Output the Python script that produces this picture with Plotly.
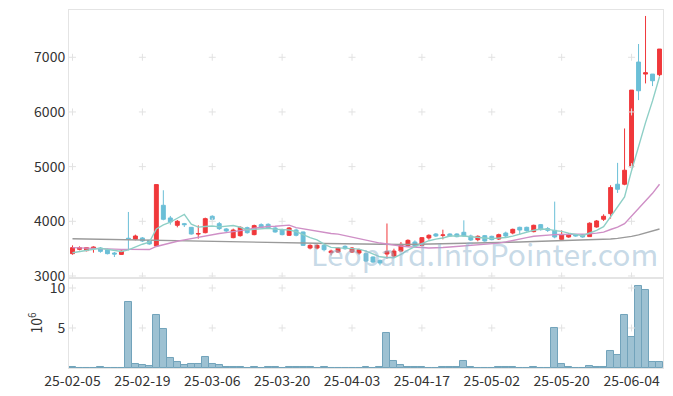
import plotly.graph_objects as go

# ---------------- data ----------------
dates = ["25-" + d for d in [
    "02-05", "02-06", "02-07", "02-10", "02-11", "02-12", "02-13", "02-14", "02-17", "02-18",
    "02-19", "02-20", "02-21", "02-24", "02-25", "02-26", "02-27", "02-28", "03-04", "03-05",
    "03-06", "03-07", "03-10", "03-11", "03-12", "03-13", "03-14", "03-17", "03-18", "03-19",
    "03-20", "03-21", "03-24", "03-25", "03-26", "03-27", "03-28", "03-31", "04-01", "04-02",
    "04-03", "04-04", "04-07", "04-08", "04-09", "04-10", "04-11", "04-14", "04-15", "04-16",
    "04-17", "04-18", "04-21", "04-22", "04-23", "04-24", "04-25", "04-28", "04-29", "04-30",
    "05-02", "05-07", "05-08", "05-09", "05-12", "05-13", "05-14", "05-15", "05-16", "05-19",
    "05-20", "05-21", "05-22", "05-23", "05-26", "05-27", "05-28", "05-29", "05-30", "06-02",
    "06-04", "06-05", "06-09", "06-10", "06-11"]]

opens = [3408, 3487, 3463, 3499, 3511, 3481, 3420, 3395, 3690, 3670,
         3695, 3652, 3548, 4293, 4061, 3927, 3957, 3890, 3768, 3792,
         4092, 3957, 3860, 3701, 3737, 3884, 3756, 3939, 3945, 3878,
         3847, 3744, 3841, 3805, 3511, 3511, 3560, 3426, 3438, 3542,
         3438, 3420, 3408, 3347, 3285, 3402, 3365, 3456, 3554, 3621,
         3560, 3695, 3768, 3744, 3768, 3768, 3799, 3731, 3664, 3737,
         3725, 3676, 3786, 3786, 3890, 3890, 3811, 3939, 3866, 3835,
         3670, 3713, 3756, 3756, 3720, 3896, 4037, 4140, 4678, 4678,
         4995, 6913, 6693, 6693, 6681]
highs = [3560, 3542, 3525, 3542, 3530, 3499, 3438, 3469, 4171, 3756,
         3713, 3660, 4672, 4568, 4098, 4024, 3970, 3896, 3927, 4067,
         4110, 3988, 3878, 3866, 3908, 3902, 3939, 3963, 3963, 3915,
         3866, 3896, 3866, 3811, 3579, 3579, 3573, 3481, 3530, 3560,
         3530, 3499, 3426, 3359, 3300, 3960, 3499, 3621, 3670, 3652,
         3713, 3762, 3786, 3847, 3780, 3780, 4018, 3756, 3744, 3750,
         3737, 3774, 3811, 3866, 3902, 3902, 3939, 3951, 3896, 4360,
         3835, 3786, 3768, 3768, 3982, 4024, 4128, 4660, 5069, 5698,
         6400, 7243, 7756, 6693, 7151]
lows = [3389, 3469, 3450, 3426, 3426, 3395, 3347, 3389, 3469, 3652,
        3621, 3573, 3548, 4018, 3939, 3890, 3896, 3756, 3682, 3780,
        4018, 3841, 3798, 3689, 3719, 3774, 3744, 3866, 3866, 3792,
        3743, 3731, 3725, 3548, 3487, 3487, 3450, 3377, 3420, 3481,
        3420, 3389, 3255, 3237, 3194, 3316, 3328, 3438, 3530, 3530,
        3542, 3664, 3713, 3670, 3719, 3707, 3719, 3640, 3634, 3627,
        3652, 3658, 3713, 3762, 3750, 3811, 3798, 3829, 3805, 3689,
        3640, 3700, 3719, 3700, 3713, 3884, 4006, 4049, 4519, 4660,
        4980, 6217, 6522, 6473, 6650]
closes = [3518, 3518, 3518, 3530, 3450, 3408, 3402, 3456, 3676, 3731,
          3640, 3585, 4672, 4037, 3988, 4000, 3939, 3768, 3774, 4049,
          4037, 3866, 3823, 3841, 3890, 3792, 3921, 3890, 3878, 3805,
          3756, 3878, 3744, 3560, 3560, 3560, 3481, 3456, 3511, 3499,
          3511, 3481, 3273, 3255, 3237, 3450, 3456, 3579, 3652, 3548,
          3701, 3744, 3731, 3750, 3731, 3719, 3731, 3658, 3725, 3640,
          3664, 3756, 3731, 3853, 3841, 3829, 3927, 3847, 3835, 3713,
          3760, 3762, 3731, 3713, 3965, 4006, 4092, 4617, 4586, 4934,
          6400, 6388, 6717, 6571, 7151]

# volume, millions of shares
volume_m = [0.15, 0.02, 0.02, 0.02, 0.10, 0.02, 0.02, 0.02, 8.20, 0.50,
            0.37, 0.25, 6.60, 4.90, 1.25, 0.75, 0.37, 0.50, 0.50, 1.40,
            0.50, 0.37, 0.15, 0.15, 0.15, 0.03, 0.12, 0.03, 0.12, 0.12,
            0.03, 0.12, 0.12, 0.12, 0.12, 0.03, 0.12, 0.02, 0.02, 0.02,
            0.02, 0.02, 0.10, 0.02, 0.10, 4.40, 0.93, 0.40, 0.13, 0.13,
            0.13, 0.03, 0.03, 0.10, 0.10, 0.10, 0.93, 0.13, 0.03, 0.03,
            0.03, 0.10, 0.10, 0.10, 0.03, 0.03, 0.10, 0.03, 0.03, 5.06,
            0.50, 0.13, 0.03, 0.03, 0.25, 0.13, 0.13, 2.07, 1.65, 6.58,
            3.90, 10.25, 9.75, 0.80, 0.80]

# moving-average lines as drawn in the reference
ma5 = [3426, 3450, 3470, 3490, 3507, 3485, 3462, 3449, 3478, 3535,
       3581, 3618, 3861, 3933, 3984, 4056, 4127, 3946, 3894, 3906,
       3913, 3899, 3910, 3923, 3891, 3842, 3853, 3867, 3874, 3857,
       3850, 3841, 3812, 3749, 3700, 3660, 3581, 3523, 3514, 3501,
       3492, 3492, 3455, 3404, 3351, 3339, 3334, 3395, 3475, 3537,
       3587, 3645, 3675, 3695, 3731, 3735, 3732, 3718, 3713, 3695,
       3684, 3689, 3703, 3729, 3769, 3802, 3836, 3859, 3856, 3830,
       3816, 3783, 3760, 3736, 3786, 3835, 3901, 4079, 4253, 4447,
       4926, 5385, 5805, 6202, 6645]
ma20 = [3518, 3512, 3506, 3500, 3496, 3492, 3488, 3486, 3486, 3486,
        3484, 3484, 3540, 3575, 3605, 3635, 3660, 3685, 3710, 3733,
        3759, 3776, 3792, 3807, 3829, 3848, 3874, 3896, 3906, 3910,
        3916, 3930, 3884, 3860, 3839, 3817, 3794, 3778, 3765, 3737,
        3711, 3692, 3664, 3635, 3602, 3585, 3562, 3547, 3535, 3522,
        3520, 3513, 3512, 3522, 3530, 3538, 3551, 3561, 3572, 3579,
        3586, 3600, 3623, 3653, 3683, 3702, 3726, 3739, 3748, 3756,
        3759, 3760, 3760, 3758, 3770, 3784, 3802, 3850, 3893, 3958,
        4095, 4227, 4376, 4512, 4677]
ma60 = [3682, 3680, 3678, 3676, 3674, 3671, 3668, 3665, 3662, 3659,
        3656, 3652, 3650, 3648, 3645, 3642, 3640, 3637, 3634, 3632,
        3630, 3628, 3626, 3624, 3622, 3620, 3618, 3616, 3614, 3612,
        3610, 3608, 3606, 3604, 3601, 3598, 3595, 3592, 3589, 3586,
        3583, 3580, 3578, 3576, 3575, 3574, 3574, 3575, 3576, 3578,
        3580, 3582, 3584, 3586, 3588, 3590, 3593, 3596, 3599, 3602,
        3605, 3609, 3613, 3617, 3621, 3625, 3629, 3633, 3637, 3640,
        3643, 3646, 3649, 3652, 3656, 3661, 3667, 3676, 3688, 3703,
        3724, 3752, 3785, 3822, 3860]

price_ticks = [3000, 4000, 5000, 6000, 7000]
vol_ticks = [5, 10]
tick_dates = dates[::10]
watermark = "Leopard.InfoPointer.com"

# ---------------- styling ----------------
FONT = "Noto Sans CJK KR"
UP = "#f0383b"
DOWN = "#6bbfd7"
FRAME = "#e4e4e4"
CROSS = "#e2e2e2"

fig = go.Figure()

# grid "+" marks at tick intersections
fig.add_trace(go.Scatter(
    x=[d for d in tick_dates for _ in price_ticks],
    y=[p for _ in tick_dates for p in price_ticks],
    mode="markers", xaxis="x", yaxis="y", hoverinfo="skip", showlegend=False,
    marker=dict(symbol="cross-thin", size=5, line=dict(color=CROSS, width=1))))
fig.add_trace(go.Scatter(
    x=[d for d in tick_dates for _ in vol_ticks],
    y=[v for _ in tick_dates for v in vol_ticks],
    mode="markers", xaxis="x2", yaxis="y2", hoverinfo="skip", showlegend=False,
    marker=dict(symbol="cross-thin", size=5, line=dict(color=CROSS, width=1))))

# moving averages
for vals, col in [(ma60, "#9a9a9a"), (ma20, "#cf8fc6"), (ma5, "#8ecfc6")]:
    fig.add_trace(go.Scatter(x=dates, y=vals, mode="lines", xaxis="x", yaxis="y",
                             line=dict(color=col, width=1.4), hoverinfo="skip",
                             showlegend=False))

# candles
fig.add_trace(go.Candlestick(
    x=dates, open=opens, high=highs, low=lows, close=closes,
    xaxis="x", yaxis="y", showlegend=False, whiskerwidth=0,
    increasing=dict(line=dict(color=UP, width=1), fillcolor=UP),
    decreasing=dict(line=dict(color=DOWN, width=1), fillcolor=DOWN)))

# volume
fig.add_trace(go.Bar(
    x=dates, y=volume_m, xaxis="x2", yaxis="y2", showlegend=False,
    marker=dict(color="#9dc1d2", line=dict(color="#72a3bb", width=1))))

axis_common = dict(showline=True, mirror=True, linecolor=FRAME, linewidth=1,
                   showgrid=False, zeroline=False, ticks="", automargin=False)

# page body keeps an 8px default margin, so the figure is sized to fit inside it
fig.update_layout(
    width=665, height=388,
    margin=dict(l=61, r=10, t=2, b=28, autoexpand=False),
    paper_bgcolor="white", plot_bgcolor="white",
    font=dict(family=FONT, size=14, color="#333333"),
    bargap=0, boxgap=0.2,
    xaxis=dict(domain=[0, 1], anchor="y", type="category",
               categoryorder="array", categoryarray=dates,
               range=[-0.5, len(dates) - 0.5], showticklabels=False,
               rangeslider=dict(visible=False), **axis_common),
    yaxis=dict(domain=[0.2514, 1], anchor="x", range=[2963, 7865],
               tickvals=price_ticks, **axis_common),
    xaxis2=dict(domain=[0, 1], anchor="y2", type="category",
                categoryorder="array", categoryarray=dates, matches="x",
                tickvals=tick_dates, ticktext=tick_dates, tickangle=0,
                **axis_common),
    yaxis2=dict(domain=[0, 0.2514], anchor="x2", range=[0, 11.25],
                tickvals=vol_ticks,
                title=dict(text="10<sup>6</sup>", standoff=3,
                           font=dict(size=14, color="#333333")),
                **axis_common),
    annotations=[dict(text=watermark, xref="paper", yref="paper",
                      x=0.70, y=0.321, xanchor="center", yanchor="middle",
                      showarrow=False,
                      font=dict(family=FONT, size=30,
                                color="rgba(145,182,208,0.52)"))],
)

fig.write_html("out.html")
